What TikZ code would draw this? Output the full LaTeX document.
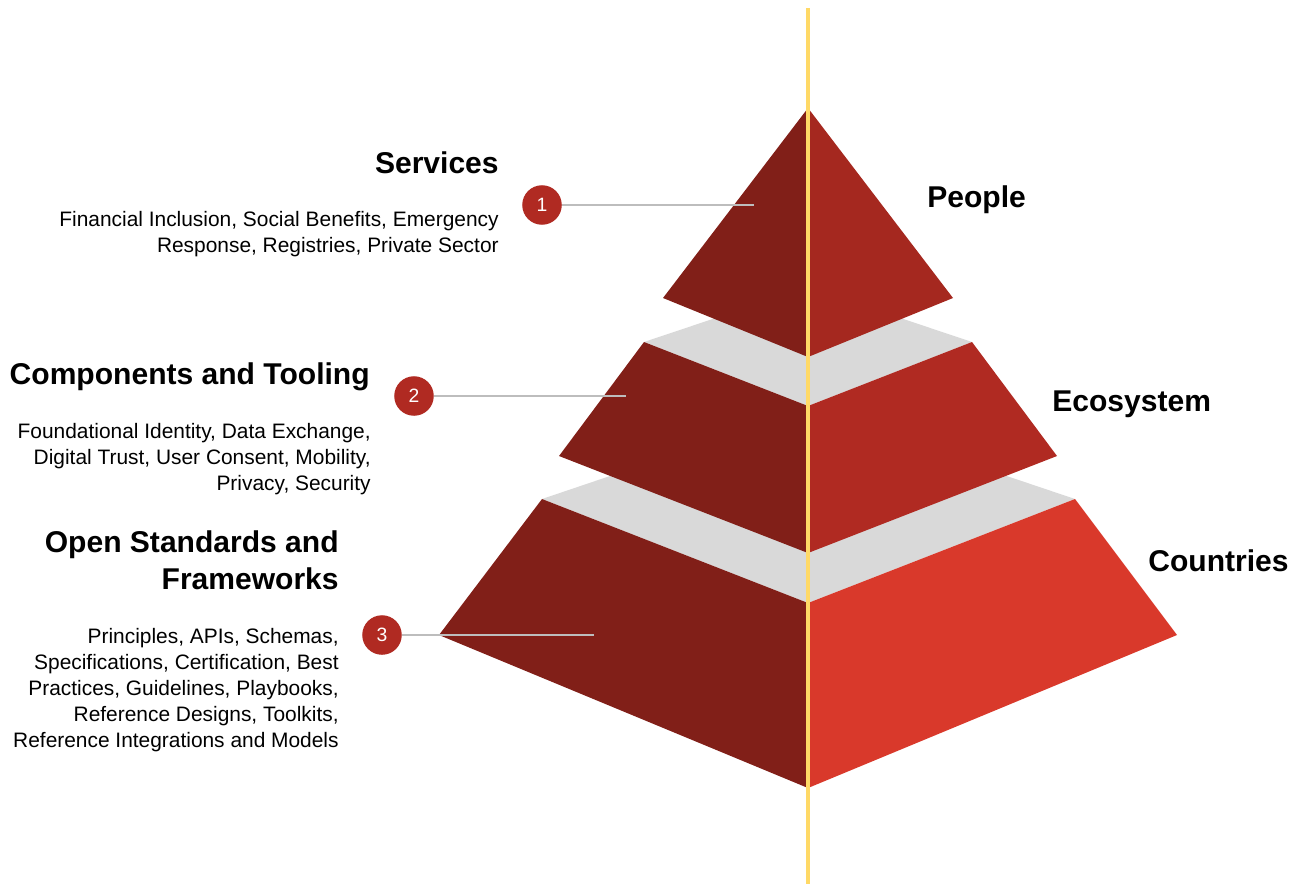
\documentclass[tikz,border=0pt]{standalone}
\usepackage{fontspec}
\setmainfont{Liberation Sans}
\usetikzlibrary{positioning}
\definecolor{leftred}{HTML}{811F18}
\definecolor{topred}{HTML}{A5281F}
\definecolor{midred}{HTML}{B02A22}
\definecolor{lowred}{HTML}{D9392B}
\definecolor{facegray}{HTML}{D9D9D9}
\definecolor{axisyellow}{HTML}{FFD966}
\definecolor{leadgray}{HTML}{BDBDBD}
\tikzstyle{heading} = [inner sep=0pt, font=\fontsize{17.1}{21}\selectfont\bfseries, align=right, anchor=base east]
\tikzstyle{sidelabel} = [inner sep=0pt, font=\fontsize{17.1}{21}\selectfont\bfseries, anchor=base west]
\tikzstyle{desc} = [inner sep=0pt, font=\fontsize{11.9}{14.8}\selectfont, align=right, anchor=base east]
\tikzstyle{badge} = [circle, fill=midred, minimum size=22.5pt, inner sep=0pt, text=white, font=\fontsize{11}{13}\selectfont]
\tikzstyle{leader} = [draw=leadgray, line width=1.1pt]

\begin{document}
\begin{tikzpicture}[x=0.02cm, y=-0.02cm]
  \useasboundingbox (0,0) rectangle (1293,886);

  % bottom tier: countries
  \fill[facegray] (542,499) -- (808,409) -- (1075,499) -- (808,603) -- cycle;
  \fill[leftred] (542,499) -- (808,603) -- (808,788) -- (439,635) -- cycle;
  \fill[lowred] (1075,499) -- (808,603) -- (808,788) -- (1177,635) -- cycle;
  % middle tier: ecosystem
  \fill[facegray] (644,342) -- (808,287) -- (972,342) -- (808,406) -- cycle;
  \fill[leftred] (644,342) -- (808,406) -- (808,553) -- (559,456) -- cycle;
  \fill[midred] (972,342) -- (808,406) -- (808,553) -- (1057,456) -- cycle;
  % top tier: people
  \fill[leftred] (808,108) -- (808,357) -- (663,298) -- cycle;
  \fill[topred] (808,108) -- (808,357) -- (953,298) -- cycle;

  % centre axis
  \coordinate (axistop) at (808,8);
  \coordinate (axisbot) at (808,884);
  \draw[axisyellow, line width=2.6pt] (axistop) -- (axisbot);

  % numbered markers and leaders
  \node (one) [badge] at (542,205) {1};
  \node (two) [badge] at (414,396) {2};
  \node (three) [badge] at (382,635) {3};
  \coordinate (oneend) at (754,205);
  \coordinate (twoend) at (626,396);
  \coordinate (threeend) at (594,635);
  \draw[leader] (one) -- (oneend);
  \draw[leader] (two) -- (twoend);
  \draw[leader] (three) -- (threeend);

  % left side texts (base = last line)
  \node (services) [heading] at (499,173) {Services};
  \node (servicestext) [desc] at (499,252) {Financial Inclusion, Social Benefits, Emergency\\Response, Registries, Private Sector};
  \node (components) [heading] at (370,384) {Components and Tooling};
  \node (componentstext) [desc] at (371,490) {Foundational Identity, Data Exchange,\\Digital Trust, User Consent, Mobility,\\Privacy, Security};
  \node (standards) [heading] at (339,589) {Open Standards and\\Frameworks};
  \node (standardstext) [desc] at (339,747) {Principles, APIs, Schemas,\\Specifications, Certification, Best\\Practices, Guidelines, Playbooks,\\Reference Designs, Toolkits,\\Reference Integrations and Models};

  % right side texts
  \node (people) [sidelabel] at (927,207) {People};
  \node (ecosystem) [sidelabel] at (1052,411) {Ecosystem};
  \node (countries) [sidelabel] at (1148,571) {Countries};
\end{tikzpicture}
\end{document}
